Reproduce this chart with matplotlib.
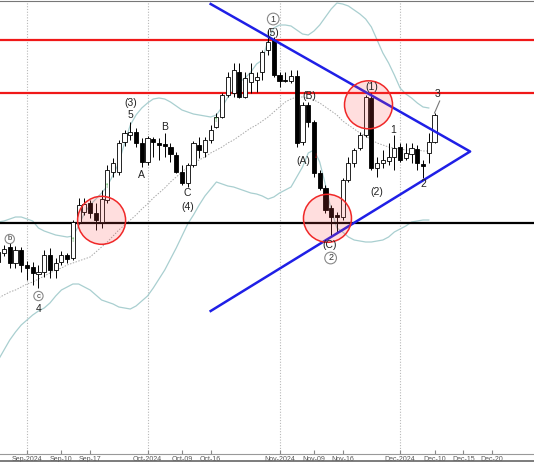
import numpy as np
import matplotlib
matplotlib.use("Agg")
import matplotlib.pyplot as plt
from matplotlib.patches import Ellipse
from matplotlib.lines import Line2D

plt.rcParams["font.family"] = ["Liberation Sans", "DejaVu Sans"]

# daily bars, x = trading-day index (0 = start of Sep 2024)
bar_idx = list(range(-5, 72))
opens = [208, 207, 213, 197, 210, 195, 193, 186, 188, 205, 190, 198, 205, 202, 238, 248, 257, 247, 238, 260,
         288, 288, 318, 325, 328, 317, 298, 321, 317, 316, 313, 305, 288, 277, 295, 315, 308, 320, 333, 343,
         365, 367, 388, 363, 378, 380, 388, 410, 420, 385, 380, 379, 384, 318, 355, 338, 287, 272, 252, 245,
         243, 280, 297, 312, 325, 362, 292, 297, 299, 303, 313, 302, 306, 311, 296, 307, 318]
highs = [212, 215, 217, 214, 213, 199, 198, 195, 210, 212, 202, 209, 207, 240, 262, 262, 260, 257, 270, 295,
         302, 320, 330, 338, 332, 322, 324, 323, 322, 327, 317, 308, 295, 297, 319, 323, 323, 335, 347, 367,
         388, 397, 397, 388, 397, 388, 410, 430, 423, 388, 388, 390, 390, 358, 358, 340, 290, 275, 255, 248,
         282, 303, 312, 328, 365, 367, 303, 310, 317, 325, 317, 317, 317, 315, 300, 327, 347]
lows = [194, 204, 192, 192, 188, 180, 175, 172, 183, 182, 182, 195, 197, 200, 236, 245, 242, 230, 232, 257,
        283, 285, 314, 320, 313, 293, 295, 303, 300, 303, 298, 287, 275, 273, 293, 302, 303, 317, 332, 342,
        363, 363, 362, 362, 367, 368, 380, 405, 383, 373, 378, 377, 313, 315, 333, 283, 270, 247, 224, 228,
        240, 278, 293, 310, 323, 290, 283, 292, 295, 290, 298, 300, 297, 290, 282, 297, 317]
closes = [198, 211, 197, 210, 195, 192, 187, 188, 205, 190, 197, 205, 201, 238, 255, 256, 247, 240, 261, 290,
          297, 317, 327, 328, 317, 298, 322, 318, 315, 314, 306, 288, 277, 295, 317, 310, 320, 330, 343, 365,
          383, 390, 363, 382, 387, 383, 408, 418, 385, 379, 379, 384, 317, 355, 338, 287, 272, 250, 243, 243,
          280, 297, 310, 325, 363, 292, 297, 300, 303, 312, 300, 307, 312, 297, 294, 318, 345]

# bollinger bands (20d), read at bars -5 .. 70
band_idx = list(range(-5, 71))
bb_upper = [238, 239, 241, 243, 243, 241, 239, 232, 229, 227, 225, 224, 223, 224, 234, 247, 255, 261, 267, 274,
            285, 297, 317, 335, 345, 352, 357, 361, 362, 361, 358, 354, 350, 348, 346, 345, 344, 343, 345, 353,
            363, 370, 378, 382, 388, 396, 400, 420, 432, 435, 435, 434, 430, 426, 425, 429, 435, 443, 451, 457,
            456, 454, 450, 446, 441, 433, 420, 407, 397, 385, 372, 366, 362, 357, 353, 352]
bb_mid = [162, 165, 168, 170, 173, 176, 178, 181, 184, 187, 190, 192, 195, 197, 199, 201, 203, 208, 213, 218,
          224, 230, 235, 240, 245, 251, 256, 262, 267, 272, 278, 283, 288, 293, 297, 300, 303, 307, 310, 313,
          317, 320, 324, 328, 332, 335, 339, 343, 348, 353, 358, 361, 363, 363, 362, 360, 357, 353, 349, 345,
          339, 335, 331, 327, 324, 320, 317, 315, 313, 312, 311, 310, 310, 310, 309, 309]
bb_lower = [100, 110, 120, 128, 135, 140, 145, 149, 152, 157, 164, 170, 173, 176, 176, 173, 170, 165, 160, 158,
            156, 153, 152, 151, 154, 159, 164, 172, 181, 190, 201, 212, 224, 236, 245, 255, 264, 271, 278, 276,
            274, 273, 271, 269, 267, 266, 264, 261, 263, 267, 270, 273, 283, 293, 307, 310, 298, 275, 250, 232,
            228, 223, 220, 219, 218, 218, 219, 220, 223, 228, 231, 234, 238, 239, 240, 240]

# key levels and triangle
resistance = [420, 367]
support = 237
tri_x = [32, 77.2, 32]
tri_y = [456, 308.5, 149]

# highlighted zones (bar, price)
zones = [(13.0, 239.7), (52.35, 241.7), (59.5, 355.2)]

# wave labels: (bar, price, text, circled)
waves = [(-3, 221, "b", True), (2, 164, "c", True), (2, 151, "4", False),
         (18, 357, "(3)", False), (18, 345, "5", False), (20, 285, "A", False),
         (24, 333, "B", False), (28, 267, "C", False), (28, 253, "(4)", False),
         (42.9, 441, "1", True), (42.9, 427, "(5)", False), (49.1, 364, "(B)", False),
         (48.1, 299, "(A)", False), (52.8, 215, "(C)", False), (52.9, 202, "2", True),
         (60.1, 373, "(1)", False), (61, 268, "(2)", False), (63.8, 330, "1", False),
         (69, 276, "2", False), (71.6, 366, "3", False)]
buy_marks = [(8, 220), (14, 273), (33, 340)]
sell_marks = [(50.3, 303)]

tick_pos = [0, 6, 11, 21, 27, 32, 44, 50, 55, 65, 71, 76, 81]
tick_lab = ["Sep-2024", "Sep-10", "Sep-17", "Oct-2024", "Oct-09", "Oct-16", "Nov-2024", "Nov-09",
            "Nov-16", "Dec-2024", "Dec-10", "Dec-15", "Dec-20"]
month_pos = [0, 21, 44, 65]

fig = plt.figure(figsize=(5.34, 4.62), dpi=100)
ax = fig.add_axes([0, 8.5 / 462, 1, 452.5 / 462])

for m in month_pos:
    ax.axvline(m, color="#b8b8b8", lw=0.8, ls=(0, (1, 1.5)), zorder=0)

bx = np.array(band_idx)
ax.plot(bx, bb_upper, color="#a9cfd0", lw=0.9, zorder=1)
ax.plot(bx, bb_lower, color="#a9cfd0", lw=0.9, zorder=1)
ax.plot(bx, bb_mid, color="#a8a8a8", lw=0.7, ls=(0, (1.5, 1.5)), zorder=1)

for lvl in resistance:
    ax.axhline(lvl, color="#f01818", lw=1.6, zorder=2)
ax.axhline(support, color="black", lw=1.6, zorder=2)

# candles
x = np.array(bar_idx)
o = np.array(opens); h = np.array(highs); l = np.array(lows); c = np.array(closes)
up = c >= o
ax.vlines(x, l, h, color="black", lw=0.7, zorder=3)
body_lo = np.minimum(o, c)
body_h = np.maximum(np.abs(c - o), 1.2)
ax.bar(x[up], body_h[up], bottom=body_lo[up], width=0.72, color="white",
       edgecolor="black", lw=0.6, zorder=4)
ax.bar(x[~up], body_h[~up], bottom=body_lo[~up], width=0.72, color="black",
       edgecolor="black", lw=0.6, zorder=4)

for bx_, by_ in buy_marks:
    ax.text(bx_, by_, "\u2191", color="#1a9a1a", fontsize=6, ha="center", va="center",
            fontweight="bold", zorder=5)
for bx_, by_ in sell_marks:
    ax.text(bx_, by_, "\u2193", color="#e02020", fontsize=6, ha="center", va="center",
            fontweight="bold", zorder=5)

ax.plot(tri_x, tri_y, color="#1f1fe6", lw=1.8, zorder=6)

for zx, zy in zones:
    ax.add_patch(Ellipse((zx, zy), 48 / 5.74, 48, facecolor=(1, 0.3, 0.3, 0.18),
                         edgecolor="#f02828", lw=1.1, zorder=7))

for wx, wy, txt, circ in waves:
    if circ:
        ax.text(wx, wy, txt, fontsize=6.5 if txt.isdigit() else 5.5, ha="center", va="center",
                color="#333333", zorder=8,
                bbox=dict(boxstyle="circle,pad=0.15", fc="white", ec="#888888", lw=0.8))
    else:
        ax.text(wx, wy, txt, fontsize=7.5, ha="center", va="center", color="#222222", zorder=8)
ax.plot([71, 71.9], [347, 359], color="#777777", lw=0.8, zorder=8)

ax.set_xlim(-4.7, 88.33)
ax.set_ylim(6.5, 459)
ax.set_yticks([])
ax.set_xticks(tick_pos, tick_lab)
ax.tick_params(axis="x", direction="in", length=3, color="#888888", labelsize=5,
               labelcolor="#555555", pad=1.5)
for s in ["left", "right"]:
    ax.spines[s].set_visible(False)
ax.spines["top"].set_color("#777777")
ax.spines["bottom"].set_color("#999999")
fig.add_artist(Line2D([0, 1], [0.6 / 462, 0.6 / 462], color="#666666", lw=1.2))

fig.savefig("out.png", dpi=100)
